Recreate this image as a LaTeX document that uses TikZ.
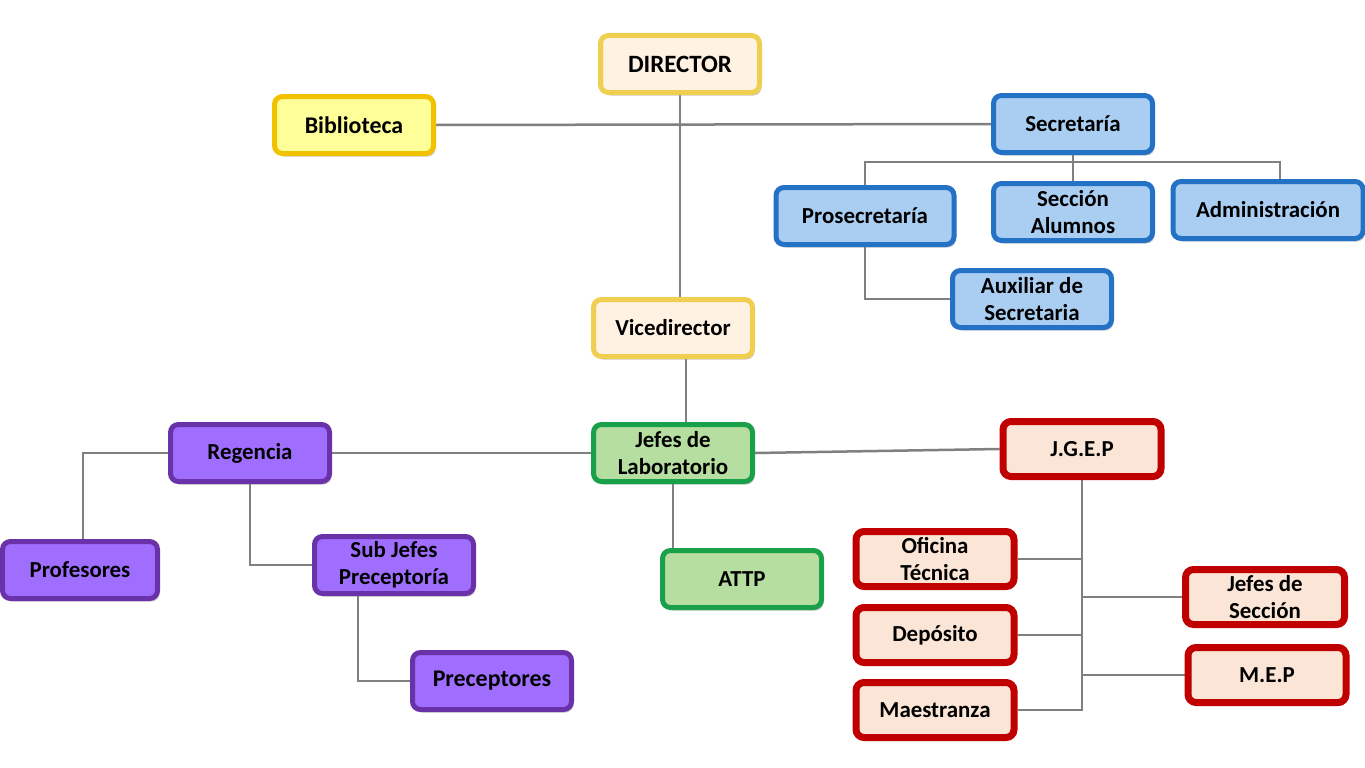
\documentclass[tikz,border=0pt]{standalone}
\usepackage{fontspec}
\setmainfont{Carlito}
\usepackage{tikz}
\usetikzlibrary{positioning,shadows,backgrounds}
\definecolor{cream}{HTML}{FFF2E2}
\definecolor{goldline}{HTML}{F0CE50}
\definecolor{bibfill}{HTML}{FFFF99}
\definecolor{bibline}{HTML}{F2C200}
\definecolor{bluefill}{HTML}{A9CEF2}
\definecolor{blueline}{HTML}{2372C6}
\definecolor{greenfill}{HTML}{B5DEA0}
\definecolor{greenline}{HTML}{1AA04A}
\definecolor{purplefill}{HTML}{A06EFF}
\definecolor{purpleline}{HTML}{6A32A8}
\definecolor{redfill}{HTML}{FBE5D6}
\definecolor{redline}{HTML}{C00000}
\definecolor{linkgray}{HTML}{808080}

\begin{document}
\begin{tikzpicture}[x=1bp,y=-1bp,
    box/.style={rounded corners=8bp,line width=5bp,minimum width=159bp,minimum height=57bp,inner sep=2pt,align=center,
      font=\fontsize{23}{27}\selectfont\bfseries,drop shadow={shadow xshift=2bp,shadow yshift=-3bp,opacity=.4}},
    yellowbox/.style={box,fill=cream,draw=goldline},
    bibbox/.style={box,fill=bibfill,draw=bibline},
    bluebox/.style={box,fill=bluefill,draw=blueline},
    greenbox/.style={box,fill=greenfill,draw=greenline},
    purplebox/.style={box,fill=purplefill,draw=purpleline},
    redbox/.style={box,fill=redfill,draw=redline,line width=7bp,minimum width=158bp,minimum height=55bp},
    link/.style={draw=linkgray,line width=2.5bp}]
  \useasboundingbox (0,0) rectangle (1365,767);
  % top
  \node[yellowbox,font=\fontsize{25}{27}\selectfont\bfseries] (dir) at (680,64) {DIRECTOR};
  \node[bibbox,font=\fontsize{24}{27}\selectfont\bfseries] (bib) at (354,125) {Biblioteca};
  \node[bluebox] (sec) at (1073,124) {Secretaría};
  \node[bluebox,minimum width=178bp] (pros) at (865,216) {Prosecretaría};
  \node[bluebox] (salum) at (1073,212) {Sección\\Alumnos};
  \node[bluebox,minimum width=190bp] (adm) at (1268,210) {Administración};
  \node[bluebox] (aux) at (1032,299) {Auxiliar de\\Secretaria};
  % middle
  \node[yellowbox] (vice) at (673,328) {Vicedirector};
  \node[greenbox] (jefl) at (673,453) {Jefes de\\Laboratorio};
  \node[greenbox] (attp) at (742,579) {ATTP};
  % left
  \node[purplebox] (reg) at (250,453) {Regencia};
  \node[purplebox,minimum width=155bp] (prof) at (80,570) {Profesores};
  \node[purplebox] (subj) at (394,565) {Sub Jefes\\Preceptoría};
  \node[purplebox,font=\fontsize{24}{27}\selectfont\bfseries] (prec) at (492,681) {Preceptores};
  % right
  \node[redbox] (jgep) at (1082,449) {J.G.E.P};
  \node[redbox] (ofi) at (935,559) {Oficina\\Técnica};
  \node[redbox] (dep) at (935,635) {Depósito};
  \node[redbox] (mae) at (935,710) {Maestranza};
  \node[redbox,minimum width=159bp] (jsec) at (1265,597) {Jefes de\\Sección};
  \node[redbox] (mep) at (1267,675) {M.E.P};
  \coordinate (secbus) at (1073,162);

  \begin{scope}[on background layer]
  \draw[link] (dir.south) -- (dir.south |- vice.north);
  \draw[link] (bib.east) -- (sec.west);
  \draw[link] (sec.south) -- (secbus);
  \draw[link] (pros.north) |- (secbus) -| ([xshift=12bp]adm.north);
  \draw[link] (secbus) -- (salum.north);
  \draw[link] (pros.south) |- (aux.west);
  \draw[link] ([xshift=13bp]vice.south) -- ([xshift=13bp]vice.south |- jefl.north);
  \draw[link] (jefl.south) -- (jefl.south |- attp.north);
  \draw[link] (reg.east) -- (jefl.west);
  \draw[link] (jefl.east) -- (jgep.west);
  \draw[link] (reg.west) -| ([xshift=3bp]prof.north);
  \draw[link] (reg.south) |- (subj.west);
  \draw[link] ([xshift=-36bp]subj.south) |- (prec.west);
  \draw[link] (jgep.south) -- (jgep.south |- mae.east) -- (mae.east);
  \draw[link] (ofi.east) -- (ofi.east -| jgep.south);
  \draw[link] (dep.east) -- (dep.east -| jgep.south);
  \draw[link] (jsec.west) -- (jsec.west -| jgep.south);
  \draw[link] (mep.west) -- (mep.west -| jgep.south);
  \end{scope}
\end{tikzpicture}
\end{document}
